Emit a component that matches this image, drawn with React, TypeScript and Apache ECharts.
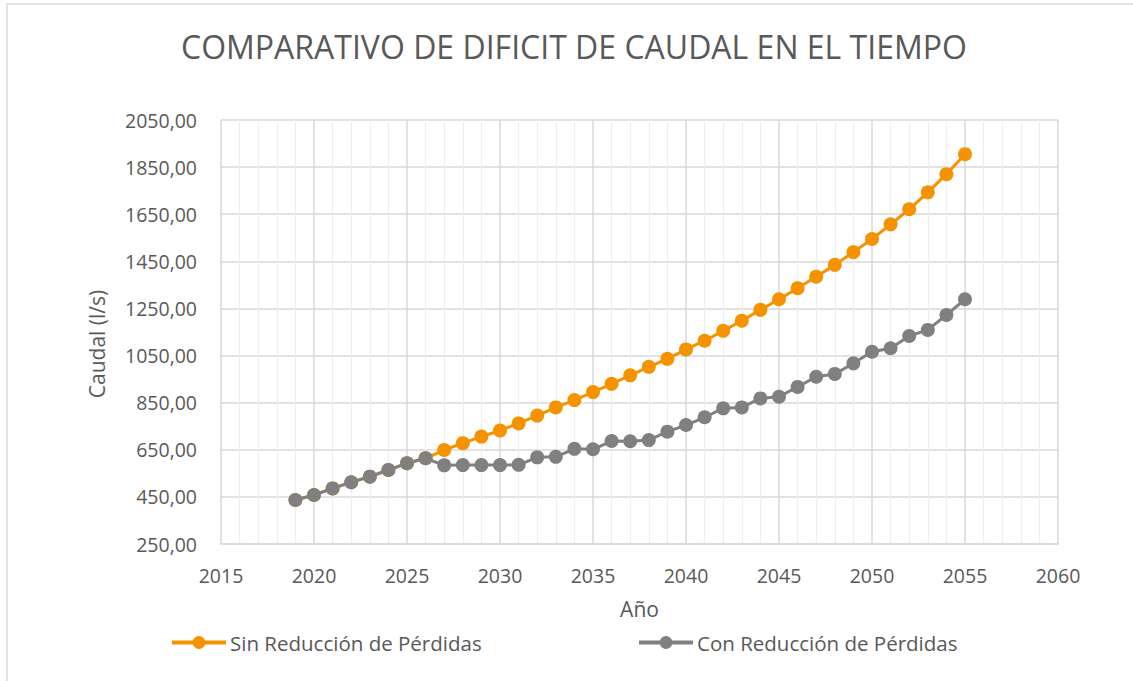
import React, { useEffect, useRef } from "react";
import * as echarts from "echarts";

const years = [
  2019, 2020, 2021, 2022, 2023, 2024, 2025, 2026, 2027, 2028, 2029, 2030, 2031,
  2032, 2033, 2034, 2035, 2036, 2037, 2038, 2039, 2040, 2041, 2042, 2043, 2044,
  2045, 2046, 2047, 2048, 2049, 2050, 2051, 2052, 2053, 2054, 2055,
];

const sinReduccion = [
  437, 458, 486, 512, 536, 564, 593, 614, 649, 678, 706, 732, 762,
  795, 830, 861, 895, 930, 966, 1002, 1036, 1076, 1113, 1155, 1198, 1244,
  1289, 1336, 1385, 1435, 1489, 1545, 1607, 1671, 1743, 1820, 1905,
];

const conReduccion = [
  437, 458, 486, 512, 536, 564, 593, 614, 584, 585, 585, 585, 586,
  618, 620, 654, 652, 687, 686, 691, 727, 755, 788, 826, 830, 868,
  875, 917, 960, 972, 1017, 1066, 1081, 1133, 1159, 1222, 1289,
];

const seriesNames = ["Sin Reducción de Pérdidas", "Con Reducción de Pérdidas"];
const titleText = "COMPARATIVO DE DIFICIT DE CAUDAL EN EL TIEMPO";
const xAxisName = "Año";
const yAxisName = "Caudal (l/s)";

const FONT = "Open Sans";
const TEXT = "#595959";
const ORANGE = "#F59200";
const GRAY = "#808080";

export default function App() {
  const ref = useRef<HTMLDivElement>(null);

  useEffect(() => {
    document.body.style.margin = "0";
    if (!ref.current) return;
    const chart = echarts.init(ref.current, undefined, { renderer: "svg" });
    const mk = (vals: number[]) => years.map((y, i) => [y, vals[i]]);
    const legendCommon = {
      top: 632,
      padding: 0,
      itemWidth: 54,
      itemHeight: 16,
      itemGap: 4,
      textStyle: { fontFamily: FONT, fontSize: 20.5, color: TEXT, padding: [0, 0, 0, -1] },
      lineStyle: { width: 4 },
    };
    chart.setOption({
      animation: false,
      backgroundColor: "#ffffff",
      textStyle: { fontFamily: FONT },
      title: {
        text: titleText,
        left: 181,
        top: 30,
        padding: 0,
        textStyle: { fontFamily: FONT, fontSize: 32, fontWeight: "normal", color: TEXT },
      },
      graphic: [
        {
          type: "rect",
          shape: { x: 7, y: 4, width: 1200, height: 800 },
          style: { fill: "none", stroke: "#d9d9d9", lineWidth: 1.5 },
          silent: true,
        },
      ],
      legend: [
        { ...legendCommon, data: [seriesNames[0]], left: 170 },
        { ...legendCommon, data: [seriesNames[1]], left: 637 },
      ],
      grid: { left: 221, top: 120, width: 837, height: 424, containLabel: false },
      xAxis: {
        type: "value",
        min: 2015,
        max: 2060,
        interval: 5,
        name: xAxisName,
        nameLocation: "middle",
        nameGap: 54,
        nameTextStyle: { fontFamily: FONT, fontSize: 21, color: TEXT },
        axisLine: { show: true, lineStyle: { color: "#d9d9d9", width: 1.5 } },
        axisTick: { show: false },
        axisLabel: {
          fontFamily: FONT,
          fontSize: 19.5,
          color: TEXT,
          margin: 21,
          formatter: (v: number) => String(v),
        },
        splitLine: { show: true, lineStyle: { color: "#d9d9d9", width: 1.5 } },
        minorTick: { show: false, splitNumber: 5 },
        minorSplitLine: { show: true, lineStyle: { color: "#eeeeee", width: 1.2 } },
      },
      yAxis: {
        type: "value",
        min: 250,
        max: 2050,
        interval: 200,
        name: yAxisName,
        nameLocation: "middle",
        nameGap: 114,
        nameTextStyle: { fontFamily: FONT, fontSize: 21, color: TEXT, padding: [0, 24, 0, 0] },
        axisLine: { show: false },
        axisTick: { show: false },
        axisLabel: {
          fontFamily: FONT,
          fontSize: 19.5,
          color: TEXT,
          margin: 24,
          formatter: (v: number) => v.toFixed(2).replace(".", ","),
        },
        splitLine: { show: true, lineStyle: { color: "#d9d9d9", width: 1.5 } },
      },
      series: [
        {
          name: seriesNames[0],
          type: "line",
          data: mk(sinReduccion),
          symbol: "circle",
          symbolSize: 14,
          showSymbol: true,
          lineStyle: { color: ORANGE, width: 3 },
          itemStyle: { color: ORANGE },
          z: 2,
        },
        {
          name: seriesNames[1],
          type: "line",
          data: mk(conReduccion),
          symbol: "circle",
          symbolSize: 14,
          showSymbol: true,
          lineStyle: { color: GRAY, width: 3 },
          itemStyle: { color: GRAY },
          z: 3,
        },
      ],
    });
    return () => chart.dispose();
  }, []);

  return <div ref={ref} style={{ width: 1133, height: 681 }} />;
}
